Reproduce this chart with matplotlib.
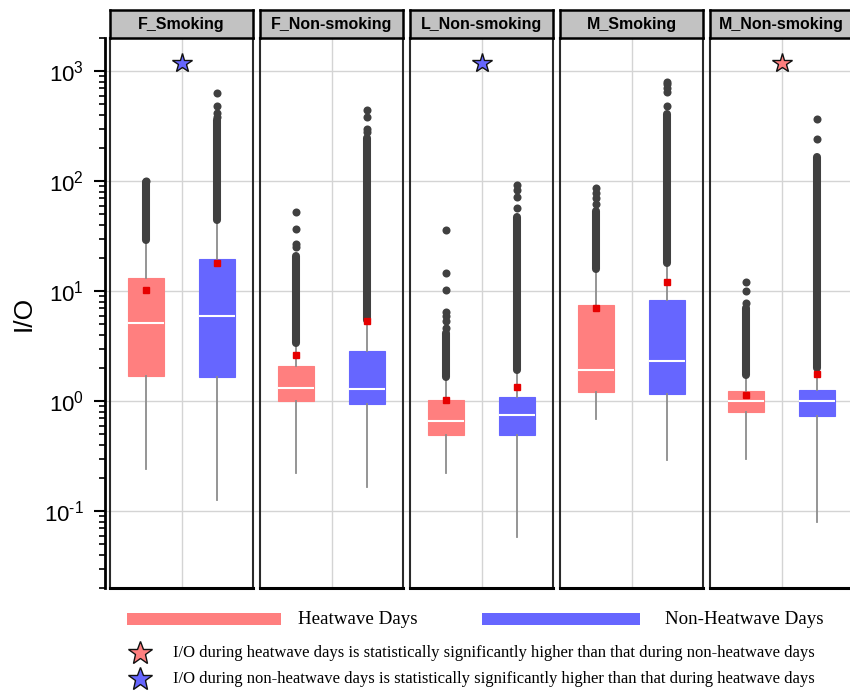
import matplotlib
matplotlib.use("Agg")
import numpy as np
import matplotlib.pyplot as plt
from matplotlib.patches import Rectangle
from matplotlib.lines import Line2D
from matplotlib.ticker import FuncFormatter

plt.rcParams["font.family"] = ["Liberation Sans", "DejaVu Sans"]
plt.rcParams["mathtext.fontset"] = "custom"
plt.rcParams["mathtext.rm"] = "Liberation Sans"
plt.rcParams["mathtext.it"] = "Liberation Sans"
plt.rcParams["axes.unicode_minus"] = False

# ---------- data ----------
panels = ["F_Smoking", "F_Non-smoking", "L_Non-smoking", "M_Smoking", "M_Non-smoking"]

# heatwave days
heat_q1 = [1.69, 1.00, 0.49, 1.21, 0.79]
heat_med = [5.1, 1.31, 0.66, 1.91, 1.00]
heat_q3 = [13.1, 2.08, 1.02, 7.5, 1.23]
heat_whislo = [0.24, 0.22, 0.22, 0.69, 0.30]
heat_whishi = [29, 3.4, 1.65, 16, 1.72]
heat_mean = [10.2, 2.62, 1.03, 7.0, 1.13]
heat_band = [(29, 98), (3.4, 21), (1.65, 4.2), (16, 54), (1.72, 7.0)]   # dense outlier runs
heat_out = [[100], [25, 27, 37, 52], [4.6, 5.4, 6.0, 6.5, 10.2, 14.6, 36],
            [62, 70, 78, 86], [7.8, 10.0, 12.1]]

# non-heatwave days
nh_q1 = [1.65, 0.94, 0.49, 1.16, 0.73]
nh_med = [5.9, 1.29, 0.75, 2.31, 1.00]
nh_q3 = [19.6, 2.85, 1.09, 8.3, 1.26]
nh_whislo = [0.126, 0.165, 0.058, 0.29, 0.079]
nh_whishi = [44, 5.5, 1.9, 18, 2.0]
nh_mean = [18.0, 5.3, 1.34, 12.1, 1.76]
nh_band = [(44, 360), (5.5, 245), (1.9, 47), (18, 410), (2.0, 165)]
nh_out = [[380, 420, 480, 630], [280, 300, 380, 440], [57, 71, 83, 92],
          [480, 650, 700, 760, 795], [240, 365]]

# significance star: which group is higher (None = no star)
star_group = ["non", None, "non", None, "heat"]
star_y = 1180

PINK = "#ff7f7f"
BLUE = "#6666ff"
DOT = "#404040"
MEAN_C = "#e60000"
GRID_C = "#d4d4d4"

W, H = 850, 693
fig = plt.figure(figsize=(W / 100, H / 100), dpi=100)


def fx(px):
    return px / W


def fy(py):
    return 1 - py / H


def pow10_label(v, pos):
    e = int(round(np.log10(v)))
    if e < 0:
        return r"$10^{\text{-}%d}$" % (-e)
    return r"$10^{%d}$" % e


top_px, bot_px = 38, 588
ylo, yhi = 0.02, 2000

# y axis on its own axes, spanning behind the panels (grid shows through gaps)
yax = fig.add_axes([fx(105), fy(bot_px), 1 - fx(105), fy(top_px) - fy(bot_px)])
yax.set_yscale("log")
yax.set_ylim(ylo, yhi)
yax.set_xlim(0, 1)
yax.yaxis.set_major_formatter(FuncFormatter(pow10_label))
yax.patch.set_alpha(0)
for s in ["top", "right", "bottom"]:
    yax.spines[s].set_visible(False)
yax.spines["left"].set_linewidth(2)
yax.set_xticks([])
yax.tick_params(axis="y", which="major", length=8, width=1.5, labelsize=16, pad=7)
yax.tick_params(axis="y", which="minor", length=4, width=1.2)
yax.grid(True, axis="y", which="major", color=GRID_C, lw=1)
yax.set_axisbelow(True)
yax.set_ylabel("I/O", fontsize=19, labelpad=6)

for i, name in enumerate(panels):
    left = 110 + 150 * i
    ax = fig.add_axes([fx(left), fy(bot_px), fx(143), fy(top_px) - fy(bot_px)])
    ax.set_yscale("log")
    ax.set_ylim(ylo, yhi)

    stats = [
        dict(q1=heat_q1[i], med=heat_med[i], q3=heat_q3[i], whislo=heat_whislo[i],
             whishi=heat_whishi[i], mean=heat_mean[i], fliers=[]),
        dict(q1=nh_q1[i], med=nh_med[i], q3=nh_q3[i], whislo=nh_whislo[i],
             whishi=nh_whishi[i], mean=nh_mean[i], fliers=[]),
    ]
    bp = ax.bxp(stats, positions=[1, 2], widths=0.5, patch_artist=True,
                showcaps=False, showmeans=True, showfliers=False, manage_ticks=False,
                whiskerprops=dict(color="#8c8c8c", lw=1.3),
                medianprops=dict(color="white", lw=1.5),
                meanprops=dict(marker="s", markerfacecolor=MEAN_C,
                               markeredgecolor=MEAN_C, markersize=4.5))
    for patch, c in zip(bp["boxes"], [PINK, BLUE]):
        patch.set_facecolor(c)
        patch.set_edgecolor(c)
        patch.set_linewidth(0.8)

    ax.set_xlim(0.5, 2.5)
    ax.set_xticks([1.5])
    ax.set_yticks([0.1, 1, 10, 100, 1000])
    ax.yaxis.set_minor_locator(matplotlib.ticker.NullLocator())
    ax.tick_params(length=0, labelleft=False, labelbottom=False)
    ax.grid(True, color=GRID_C, lw=1)
    ax.set_axisbelow(True)
    for s in ax.spines.values():
        s.set_color("#2a2a2a")
        s.set_linewidth(1.5)
    ax.spines["bottom"].set_color("black")
    ax.spines["bottom"].set_linewidth(2.2)

    # outliers: dense runs drawn as a stacked column, plus the separate points
    for x, band, pts in [(1, heat_band[i], heat_out[i]), (2, nh_band[i], nh_out[i])]:
        ax.plot([x, x], band, color=DOT, lw=5.8, solid_capstyle="round", zorder=3)
        ax.plot([x] * len(pts), pts, "o", color=DOT, ms=5.8, mec="none", zorder=3)
    for m in bp["means"]:
        m.set_zorder(4)

    if star_group[i] is not None:
        c = PINK if star_group[i] == "heat" else BLUE
        ax.plot(1.5, star_y, marker="*", ms=15, mfc=c, mec="#111111", mew=1, zorder=5)

    # header strip
    hx = fig.add_axes([fx(left), fy(top_px), fx(143), fy(10) - fy(top_px)])
    hx.set_facecolor("#c2c2c2")
    hx.set_xticks([])
    hx.set_yticks([])
    for s in hx.spines.values():
        s.set_color("black")
        s.set_linewidth(1.8)
    hx.text(0.5, 0.5, name, ha="center", va="center", fontsize=11.5,
            fontweight="bold", transform=hx.transAxes)

# ---------- legend ----------
serif = ["Liberation Serif", "DejaVu Serif"]
fig.patches.append(Rectangle((fx(127), fy(625)), fx(154), fy(613) - fy(625),
                             transform=fig.transFigure, facecolor=PINK, edgecolor="none"))
fig.patches.append(Rectangle((fx(482), fy(625)), fx(158), fy(613) - fy(625),
                             transform=fig.transFigure, facecolor=BLUE, edgecolor="none"))
fig.text(fx(298), fy(620), "Heatwave Days", fontsize=13.7, family=serif, va="center")
fig.text(fx(665), fy(620), "Non-Heatwave Days", fontsize=13.7, family=serif, va="center")

legend_rows = [
    (653, PINK, "I/O during heatwave days is statistically significantly higher than that during non-heatwave days"),
    (679, BLUE, "I/O during non-heatwave days is statistically significantly higher than that during heatwave days"),
]
for ypx, c, txt in legend_rows:
    fig.add_artist(Line2D([fx(140)], [fy(ypx)], marker="*", ms=18, mfc=c, mec="#111111",
                          mew=1, transform=fig.transFigure))
    fig.text(fx(173), fy(ypx), txt, fontsize=12, family=serif, va="center")

fig.savefig("out.png", dpi=100)
